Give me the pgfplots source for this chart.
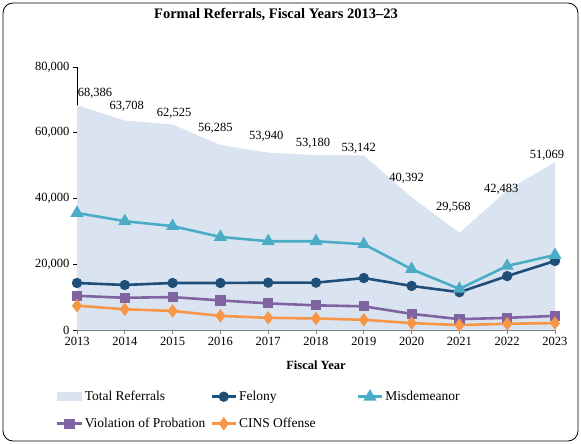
\documentclass[border=0pt]{standalone}
\usepackage{pgfplots}
\pgfplotsset{compat=1.18}
\usepackage{pgfplotstable}
\usepackage{fontspec}
\setmainfont{Liberation Serif}
\definecolor{areablue}{HTML}{DAE3F0}
\definecolor{felony}{HTML}{1F4E79}
\definecolor{misd}{HTML}{4BACC6}
\definecolor{vop}{HTML}{8064A2}
\definecolor{cins}{HTML}{F79646}
\definecolor{axgray}{HTML}{808080}

\pgfplotstableread{
x total
2013 68386
2014 63708
2015 62525
2016 56285
2017 53940
2018 53180
2019 53142
2020 40392
2021 29568
2022 42483
2023 51069
}\totaltab

\pgfplotstableread{
x y dx dy label
2013 68386 18 12 68,386
2014 63708 2 14.6 63,708
2015 62525 1.5 11.4 62,525
2016 56285 -5 17 56,285
2017 53940 -2 16.7 53,940
2018 53180 -3 12 53,180
2019 53142 -5 7 53,142
2020 40392 -5 19 40,392
2021 29568 -6 25 29,568
2022 42483 -6 1 42,483
2023 51069 -8 7 51,069
}\labeltab

\pgfplotstableread{
x felony misd vop cins
2013 14300 35600 10400 7400
2014 13700 33100 9800 6300
2015 14300 31600 10000 5800
2016 14300 28300 9000 4300
2017 14400 27000 8100 3700
2018 14400 27000 7500 3500
2019 15800 26100 7200 3100
2020 13400 18500 4900 2100
2021 11500 12500 3300 1500
2022 16400 19500 3700 1900
2023 21000 22800 4300 2100
}\linetab

\begin{document}
\begin{tikzpicture}[x=1pt,y=1pt]
\useasboundingbox (0,0) rectangle (581,444);
\draw[rounded corners=10pt, line width=0.8pt] (3,3) rectangle (578,441);
\node[font=\bfseries\fontsize{14.5}{16}\selectfont] at (276,429) {Formal Referrals, Fiscal Years 2013--23};
\begin{axis}[
  at={(77pt,114pt)}, anchor=south west,
  scale only axis, width=478pt, height=263pt,
  xmin=2013, xmax=2023, ymin=0, ymax=80000,
  axis x line=bottom, axis y line=left,
  axis line style={-},
  x axis line style={axgray, line width=1.6pt},
  y axis line style={black, line width=0.8pt},
  xtick={2013,...,2023},
  ytick={0,20000,40000,60000,80000},
  tick align=outside, major tick length=4pt,
  x tick style={axgray, line width=0.8pt},
  y tick style={black, line width=0.6pt},
  scaled y ticks=false,
  /pgf/number format/assume math mode=true,
  xticklabel style={/pgf/number format/1000 sep={}, font=\fontsize{12.5}{14}\selectfont},
  yticklabel style={/pgf/number format/1000 sep={,}, font=\fontsize{12.5}{14}\selectfont},
  xlabel={Fiscal Year},
  xlabel style={at={(axis description cs:0.5,0)}, anchor=center, yshift=-35pt, font=\bfseries\fontsize{12.5}{14}\selectfont},
  legend columns=3,
  legend cell align=left,
  legend style={at={(0,0)}, anchor=north west, xshift=-24pt, yshift=-57pt, draw=none, fill=none,
    font=\fontsize{13.5}{15}\selectfont, row sep=12pt,
    /tikz/column 2/.style={column sep=3pt},
    /tikz/column 4/.style={column sep=39pt}},
  legend image code/.code={\draw[mark repeat=2,mark phase=2,#1] plot coordinates {(0pt,0pt) (12pt,0pt) (24pt,0pt)};},
]
\addplot[fill=areablue, draw=none,
  legend image code/.code={\fill[areablue] (0pt,-4.5pt) rectangle (24pt,4.5pt);}]
  table[x=x, y=total]{\totaltab} \closedcycle;
\addlegendentry{Total Referrals}
\addplot[felony, line width=2.6pt, mark=*, mark size=3.8pt, mark options={solid}] table[x=x, y=felony]{\linetab};
\addlegendentry{Felony}
\addplot[misd, line width=2.6pt, mark=triangle*, mark size=5pt] table[x=x, y=misd]{\linetab};
\addlegendentry{Misdemeanor}
\addplot[vop, line width=2.6pt, mark=square*, mark size=3.8pt] table[x=x, y=vop]{\linetab};
\addlegendentry{Violation of Probation}
\addplot[cins, line width=2.6pt, mark=diamond*, mark size=4.6pt] table[x=x, y=cins]{\linetab};
\addlegendentry{CINS Offense}
\addplot[draw=none, mark=none, forget plot,
  nodes near coords, point meta=explicit symbolic,
  visualization depends on={\thisrow{dx}\as\dx},
  visualization depends on={\thisrow{dy}\as\dy},
  nodes near coords style={anchor=center, xshift=\dx pt, yshift=\dy pt, font=\fontsize{12.5}{14}\selectfont, text=black}]
  table[x=x, y=y, meta=label]{\labeltab};
\end{axis}
\end{tikzpicture}
\end{document}
